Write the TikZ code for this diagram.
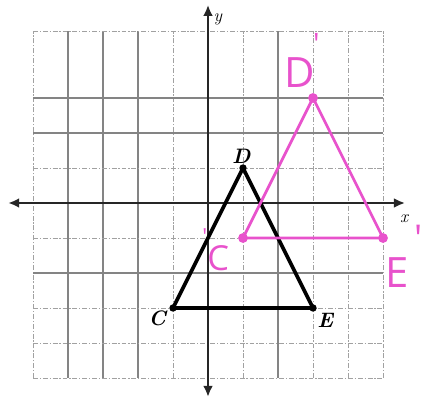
\documentclass[tikz,border=0pt]{standalone}
\usepackage{fontspec}
\newfontfamily\handfont{Open Sans}
\usetikzlibrary{arrows.meta}
\definecolor{pinkink}{RGB}{232,82,204}
\definecolor{gridgray}{RGB}{110,110,110}
\tikzset{
  gridline/.style={gridgray!65, line width=0.8pt, dash pattern=on 4pt off 1.5pt on 1pt off 1.5pt},
  gridsolid/.style={gridgray!85, line width=0.85pt},
  axisline/.style={black!85, line width=1.8pt, {Latex[length=9pt,width=8pt]}-{Latex[length=9pt,width=8pt]}},
  blacktri/.style={black, line width=3pt, line join=round},
  pinktri/.style={pinkink, line width=2.2pt, line join=round},
  bdot/.style={circle, fill=black, inner sep=0pt, minimum size=6pt},
  pdot/.style={circle, fill=pinkink, inner sep=0pt, minimum size=8pt},
  ptlabel/.style={font=\bfseries\itshape\fontsize{17}{17}\selectfont, inner sep=1pt},
  axlabel/.style={font=\itshape\Large, inner sep=1pt},
  handlabel/.style={pinkink, font=\handfont\fontsize{26}{26}\selectfont, inner sep=0pt}
}
\begin{document}
\begin{tikzpicture}
\useasboundingbox (-5.943,-5.743) rectangle (6.114,5.8);
% grid
\foreach \x in {-5,-1,1,3,4,5} \draw[gridline] (\x,-5) -- (\x,4.9);
\foreach \x in {-4,-3,-2,2} \draw[gridsolid] (\x,-5) -- (\x,4.9);
\foreach \y in {-5,-4,-3,-1,1,4.9} \draw[gridline] (-5,\y) -- (5,\y);
\foreach \y in {-2,2,3} \draw[gridsolid] (-5,\y) -- (5,\y);
% axes
\coordinate (xl) at (-5.71,0);
\coordinate (xr) at (5.63,0);
\coordinate (yt) at (0,5.66);
\coordinate (yb) at (0,-5.54);
\draw[axisline] (xl) -- (xr);
\draw[axisline] (yb) -- (yt);
\node[axlabel, anchor=west] (ylab) at (0.12,5.25) {y};
\node[axlabel] (xlab) at (5.6,-0.45) {x};
% black triangle
\node[bdot] (D) at (1,1) {};
\node[bdot] (C) at (-1,-3) {};
\node[bdot] (E) at (3,-3) {};
\draw[blacktri] (C.center) -- (D.center) -- (E.center) -- cycle;
\node[ptlabel] (Dl) at (0.95,1.34) {D};
\node[ptlabel] (Cl) at (-1.45,-3.3) {C};
\node[ptlabel] (El) at (3.35,-3.35) {E};
% pink triangle
\node[pdot] (Dp) at (3,3) {};
\node[pdot] (Cp) at (1,-1) {};
\node[pdot] (Ep) at (5,-1) {};
\draw[pinktri] (Cp.center) -- (Dp.center) -- (Ep.center) -- cycle;
\node[handlabel, font=\handfont\fontsize{34}{34}\selectfont] (Dpl) at (2.62,3.74) {D};
\node[handlabel, font=\handfont\fontsize{24}{24}\selectfont] (Dpp) at (3.1,4.55) {'};
\node[handlabel, font=\handfont\fontsize{28}{28}\selectfont] (Cpl) at (0.29,-1.57) {C};
\node[handlabel, font=\handfont\fontsize{18}{18}\selectfont] (Cpp) at (-0.09,-0.95) {'};
\node[handlabel, font=\handfont\fontsize{34}{34}\selectfont] (Epl) at (5.4,-2.0) {E};
\node[handlabel, font=\handfont\fontsize{30}{30}\selectfont] (Epp) at (6.02,-1.0) {'};
\end{tikzpicture}
\end{document}
